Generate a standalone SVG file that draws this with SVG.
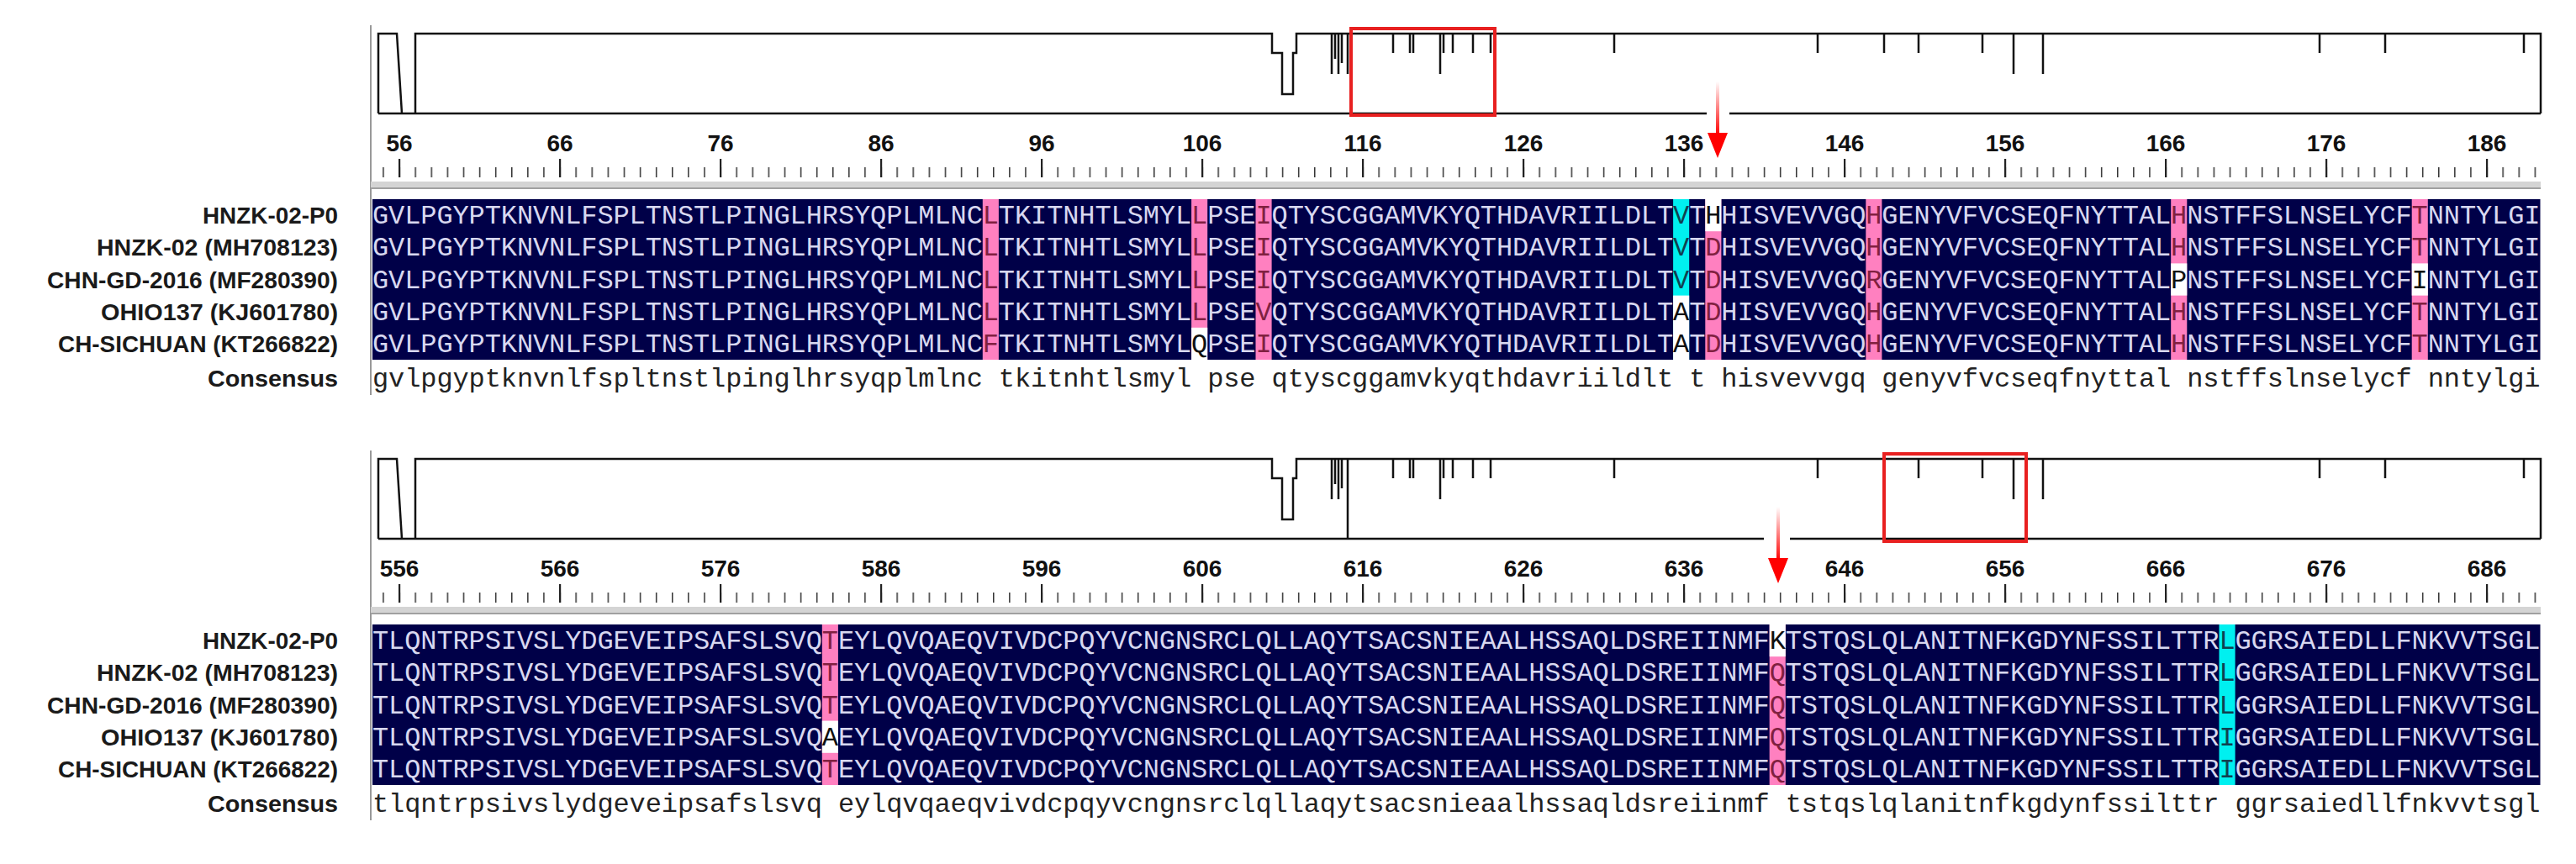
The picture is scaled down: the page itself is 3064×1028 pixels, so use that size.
<svg xmlns="http://www.w3.org/2000/svg" width="3064" height="1028" viewBox="0 0 3064 1028">
<style>
.lab{font-family:"Liberation Sans",Arial,sans-serif;font-weight:bold;font-size:28px;fill:#1a1a1a;text-anchor:end}
.num{font-family:"Liberation Sans",Arial,sans-serif;font-weight:bold;font-size:28px;fill:#111;text-anchor:middle}
.seq{font-family:"Liberation Mono","Courier New",monospace;font-size:32px;fill:#d8d8f0;white-space:pre}
.con{font-family:"Liberation Mono","Courier New",monospace;font-size:32px;fill:#222;white-space:pre}
.p{fill:#802040}.c{fill:#104050}.w{fill:#111}
.pk{fill:#ff80c0}.cy{fill:#00f0f0}.wh{fill:#fff}
.prof{fill:none;stroke:#111;stroke-width:2.5}
.box{fill:none;stroke:#e82020;stroke-width:4}
</style>
<defs>
<pattern id="minor" patternUnits="userSpaceOnUse" x="474.3" y="0" width="19.1" height="1028"><rect x="0" y="0" width="1.5" height="1028" fill="#333"/></pattern>
<pattern id="major" patternUnits="userSpaceOnUse" x="474" y="0" width="191" height="1028"><rect x="0" y="0" width="2.2" height="1028" fill="#222"/></pattern>
<linearGradient id="ag" x1="0" y1="0" x2="0" y2="1"><stop offset="0" stop-color="#ff0000" stop-opacity="0"/><stop offset="1" stop-color="#ff0000"/></linearGradient>
<g id="frame">
<line x1="441" y1="30" x2="441" y2="470" stroke="#999" stroke-width="2"/>
<path class="prof" d="M450,135 V40 H472 L478,135 M494,135 V40 H1513 V63 H1525 V112 H1538 V63 H1542 V40 H3022 V135"/>
<path class="prof" stroke-width="2" d="M1584,40V88 M1588,40V70 M1592,40V88 M1596,40V75 M1657,40V63 M1677,40V63 M1681,40V63 M1713,40V88 M1717,40V63 M1728,40V63 M1752,40V63 M1773,40V63 M1920,40V63 M2162,40V63 M2241,40V63 M2282,40V63 M2358,40V63 M2395,40V88 M2430,40V88 M2759,40V63 M2837,40V63 M3002,40V63"/>
<rect x="453" y="199" width="2566" height="12" fill="url(#minor)"/>
<rect x="453" y="189" width="2566" height="22" fill="url(#major)"/>
<rect x="441" y="216" width="2581" height="9" fill="#d4d4d4"/>
<line x1="441" y1="224" x2="3022" y2="224" stroke="#a0a0a0" stroke-width="2"/>
<rect x="443" y="237" width="2578.5" height="191" fill="#000048"/>
</g>
</defs>

<g id="panel1">
<use href="#frame"/>
<path class="prof" d="M450,135 H2030 M2057,135 H3022 M1603,40 V88"/>
<rect class="box" x="1607" y="34" width="171" height="103"/>
<g id="nums1">
<text class="num" x="475" y="180">56</text><text class="num" x="666" y="180">66</text><text class="num" x="857" y="180">76</text><text class="num" x="1048" y="180">86</text><text class="num" x="1239" y="180">96</text><text class="num" x="1430" y="180">106</text><text class="num" x="1621" y="180">116</text><text class="num" x="1812" y="180">126</text><text class="num" x="2003" y="180">136</text><text class="num" x="2194" y="180">146</text><text class="num" x="2385" y="180">156</text><text class="num" x="2576" y="180">166</text><text class="num" x="2767" y="180">176</text><text class="num" x="2958" y="180">186</text>
</g>
<g id="cols1">
<rect class="pk" x="1168.8" y="237" width="19.1" height="191"/>
<rect class="pk" x="1417.1" y="237" width="19.1" height="191"/>
<rect class="pk" x="1493.5" y="237" width="19.1" height="191"/>
<rect class="cy" x="1990.1" y="237" width="19.1" height="191"/>
<rect class="pk" x="2028.3" y="237" width="19.1" height="191"/>
<rect class="pk" x="2219.3" y="237" width="19.1" height="191"/>
<rect class="pk" x="2582.2" y="237" width="19.1" height="191"/>
<rect class="pk" x="2868.7" y="237" width="19.1" height="191"/>
<rect class="wh" x="2028.3" y="237" width="19.1" height="38.2"/>
<rect class="wh" x="2582.2" y="313.4" width="19.1" height="38.2"/>
<rect class="wh" x="2868.7" y="313.4" width="19.1" height="38.2"/>
<rect class="wh" x="1990.1" y="351.6" width="19.1" height="76.4"/>
<rect class="wh" x="1417.1" y="389.8" width="19.1" height="38.2"/>
</g>
<g id="labels1">
<text class="lab" x="402" y="266" textLength="161" lengthAdjust="spacingAndGlyphs">HNZK-02-P0</text>
<text class="lab" x="402" y="304" textLength="287" lengthAdjust="spacingAndGlyphs">HNZK-02 (MH708123)</text>
<text class="lab" x="402" y="343" textLength="346" lengthAdjust="spacingAndGlyphs">CHN-GD-2016 (MF280390)</text>
<text class="lab" x="402" y="381" textLength="282" lengthAdjust="spacingAndGlyphs">OHIO137 (KJ601780)</text>
<text class="lab" x="402" y="419" textLength="333" lengthAdjust="spacingAndGlyphs">CH-SICHUAN (KT266822)</text>
<text class="lab" x="402" y="460" textLength="155" lengthAdjust="spacingAndGlyphs">Consensus</text>
</g>
<g id="seq1">
<text class="seq" x="443" y="266" textLength="2578.5" lengthAdjust="spacing">GVLPGYPTKNVNLFSPLTNSTLPINGLHRSYQPLMLNC<tspan class="p">L</tspan>TKITNHTLSMYL<tspan class="p">L</tspan>PSE<tspan class="p">I</tspan>QTYSCGGAMVKYQTHDAVRIILDLT<tspan class="c">V</tspan>T<tspan class="w">H</tspan>HISVEVVGQ<tspan class="p">H</tspan>GENYVFVCSEQFNYTTAL<tspan class="p">H</tspan>NSTFFSLNSELYCF<tspan class="p">T</tspan>NNTYLGI</text>
<text class="seq" x="443" y="304" textLength="2578.5" lengthAdjust="spacing">GVLPGYPTKNVNLFSPLTNSTLPINGLHRSYQPLMLNC<tspan class="p">L</tspan>TKITNHTLSMYL<tspan class="p">L</tspan>PSE<tspan class="p">I</tspan>QTYSCGGAMVKYQTHDAVRIILDLT<tspan class="c">V</tspan>T<tspan class="p">D</tspan>HISVEVVGQ<tspan class="p">H</tspan>GENYVFVCSEQFNYTTAL<tspan class="p">H</tspan>NSTFFSLNSELYCF<tspan class="p">T</tspan>NNTYLGI</text>
<text class="seq" x="443" y="343" textLength="2578.5" lengthAdjust="spacing">GVLPGYPTKNVNLFSPLTNSTLPINGLHRSYQPLMLNC<tspan class="p">L</tspan>TKITNHTLSMYL<tspan class="p">L</tspan>PSE<tspan class="p">I</tspan>QTYSCGGAMVKYQTHDAVRIILDLT<tspan class="c">V</tspan>T<tspan class="p">D</tspan>HISVEVVGQ<tspan class="p">R</tspan>GENYVFVCSEQFNYTTAL<tspan class="w">P</tspan>NSTFFSLNSELYCF<tspan class="w">I</tspan>NNTYLGI</text>
<text class="seq" x="443" y="381" textLength="2578.5" lengthAdjust="spacing">GVLPGYPTKNVNLFSPLTNSTLPINGLHRSYQPLMLNC<tspan class="p">L</tspan>TKITNHTLSMYL<tspan class="p">L</tspan>PSE<tspan class="p">V</tspan>QTYSCGGAMVKYQTHDAVRIILDLT<tspan class="w">A</tspan>T<tspan class="p">D</tspan>HISVEVVGQ<tspan class="p">H</tspan>GENYVFVCSEQFNYTTAL<tspan class="p">H</tspan>NSTFFSLNSELYCF<tspan class="p">T</tspan>NNTYLGI</text>
<text class="seq" x="443" y="419" textLength="2578.5" lengthAdjust="spacing">GVLPGYPTKNVNLFSPLTNSTLPINGLHRSYQPLMLNC<tspan class="p">F</tspan>TKITNHTLSMYL<tspan class="w">Q</tspan>PSE<tspan class="p">I</tspan>QTYSCGGAMVKYQTHDAVRIILDLT<tspan class="w">A</tspan>T<tspan class="p">D</tspan>HISVEVVGQ<tspan class="p">H</tspan>GENYVFVCSEQFNYTTAL<tspan class="p">H</tspan>NSTFFSLNSELYCF<tspan class="p">T</tspan>NNTYLGI</text>
<text class="con" x="443" y="460" textLength="2578.5" lengthAdjust="spacing">gvlpgyptknvnlfspltnstlpinglhrsyqplmlnc tkitnhtlsmyl pse qtyscggamvkyqthdavriildlt t hisvevvgq genyvfvcseqfnyttal nstffslnselycf nntylgi</text>
</g>
<g id="arrow1">
<rect x="2041" y="97" width="4" height="64" fill="url(#ag)"/>
<polygon points="2031,158 2055,158 2043,188" fill="#ff0000"/>
</g>
</g>

<g id="panel2">
<use href="#frame" transform="translate(0,506)"/>
<path class="prof" d="M450,641 H2098 M2129,641 H3022 M1603,546 V641"/>
<rect class="box" x="2241" y="540" width="169" height="104"/>
<g id="nums2">
<text class="num" x="475" y="686">556</text><text class="num" x="666" y="686">566</text><text class="num" x="857" y="686">576</text><text class="num" x="1048" y="686">586</text><text class="num" x="1239" y="686">596</text><text class="num" x="1430" y="686">606</text><text class="num" x="1621" y="686">616</text><text class="num" x="1812" y="686">626</text><text class="num" x="2003" y="686">636</text><text class="num" x="2194" y="686">646</text><text class="num" x="2385" y="686">656</text><text class="num" x="2576" y="686">666</text><text class="num" x="2767" y="686">676</text><text class="num" x="2958" y="686">686</text>
</g>
<g id="cols2">
<rect class="pk" x="977.8" y="743" width="19.1" height="191"/>
<rect class="pk" x="2104.7" y="743" width="19.1" height="191"/>
<rect class="cy" x="2639.5" y="743" width="19.1" height="191"/>
<rect class="wh" x="977.8" y="857.6" width="19.1" height="38.2"/>
<rect class="wh" x="2104.7" y="743" width="19.1" height="38.2"/>
</g>
<g id="labels2">
<text class="lab" x="402" y="772" textLength="161" lengthAdjust="spacingAndGlyphs">HNZK-02-P0</text>
<text class="lab" x="402" y="810" textLength="287" lengthAdjust="spacingAndGlyphs">HNZK-02 (MH708123)</text>
<text class="lab" x="402" y="849" textLength="346" lengthAdjust="spacingAndGlyphs">CHN-GD-2016 (MF280390)</text>
<text class="lab" x="402" y="887" textLength="282" lengthAdjust="spacingAndGlyphs">OHIO137 (KJ601780)</text>
<text class="lab" x="402" y="925" textLength="333" lengthAdjust="spacingAndGlyphs">CH-SICHUAN (KT266822)</text>
<text class="lab" x="402" y="966" textLength="155" lengthAdjust="spacingAndGlyphs">Consensus</text>
</g>
<g id="seq2">
<text class="seq" x="443" y="772" textLength="2578.5" lengthAdjust="spacing">TLQNTRPSIVSLYDGEVEIPSAFSLSVQ<tspan class="p">T</tspan>EYLQVQAEQVIVDCPQYVCNGNSRCLQLLAQYTSACSNIEAALHSSAQLDSREIINMF<tspan class="w">K</tspan>TSTQSLQLANITNFKGDYNFSSILTTR<tspan class="c">L</tspan>GGRSAIEDLLFNKVVTSGL</text>
<text class="seq" x="443" y="810" textLength="2578.5" lengthAdjust="spacing">TLQNTRPSIVSLYDGEVEIPSAFSLSVQ<tspan class="p">T</tspan>EYLQVQAEQVIVDCPQYVCNGNSRCLQLLAQYTSACSNIEAALHSSAQLDSREIINMF<tspan class="p">Q</tspan>TSTQSLQLANITNFKGDYNFSSILTTR<tspan class="c">L</tspan>GGRSAIEDLLFNKVVTSGL</text>
<text class="seq" x="443" y="849" textLength="2578.5" lengthAdjust="spacing">TLQNTRPSIVSLYDGEVEIPSAFSLSVQ<tspan class="p">T</tspan>EYLQVQAEQVIVDCPQYVCNGNSRCLQLLAQYTSACSNIEAALHSSAQLDSREIINMF<tspan class="p">Q</tspan>TSTQSLQLANITNFKGDYNFSSILTTR<tspan class="c">L</tspan>GGRSAIEDLLFNKVVTSGL</text>
<text class="seq" x="443" y="887" textLength="2578.5" lengthAdjust="spacing">TLQNTRPSIVSLYDGEVEIPSAFSLSVQ<tspan class="w">A</tspan>EYLQVQAEQVIVDCPQYVCNGNSRCLQLLAQYTSACSNIEAALHSSAQLDSREIINMF<tspan class="p">Q</tspan>TSTQSLQLANITNFKGDYNFSSILTTR<tspan class="c">I</tspan>GGRSAIEDLLFNKVVTSGL</text>
<text class="seq" x="443" y="925" textLength="2578.5" lengthAdjust="spacing">TLQNTRPSIVSLYDGEVEIPSAFSLSVQ<tspan class="p">T</tspan>EYLQVQAEQVIVDCPQYVCNGNSRCLQLLAQYTSACSNIEAALHSSAQLDSREIINMF<tspan class="p">Q</tspan>TSTQSLQLANITNFKGDYNFSSILTTR<tspan class="c">I</tspan>GGRSAIEDLLFNKVVTSGL</text>
<text class="con" x="443" y="966" textLength="2578.5" lengthAdjust="spacing">tlqntrpsivslydgeveipsafslsvq eylqvqaeqvivdcpqyvcngnsrclqllaqytsacsnieaalhssaqldsreiinmf tstqslqlanitnfkgdynfssilttr ggrsaiedllfnkvvtsgl</text>
</g>
<g id="arrow2">
<rect x="2113" y="603" width="4" height="64" fill="url(#ag)"/>
<polygon points="2103,664 2127,664 2115,694" fill="#ff0000"/>
</g>
</g>
</svg>
